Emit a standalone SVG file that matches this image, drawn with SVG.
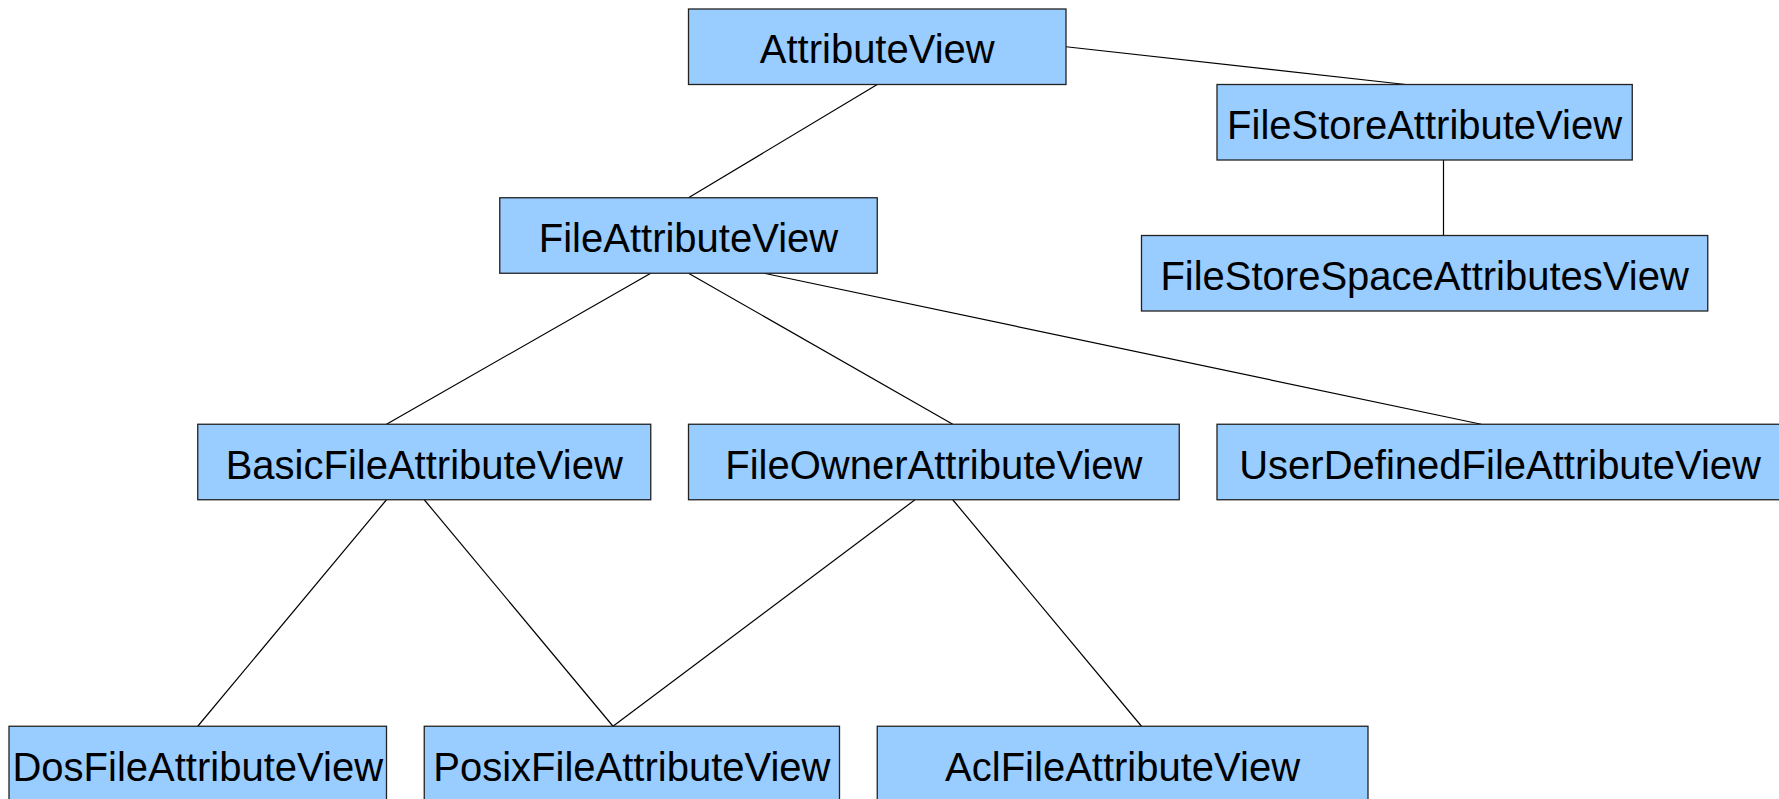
<svg xmlns="http://www.w3.org/2000/svg" width="1779" height="799" viewBox="0 0 1779 799">
<style>
.box{fill:#99ccff;stroke:#222;stroke-width:1.3}
.lbl{font-family:"Liberation Sans",Arial,sans-serif;font-size:40px;fill:#000;text-anchor:middle}
.con line{stroke:#000;stroke-width:1.2;fill:none}
</style>
<rect width="1779" height="799" fill="#fff"/>
<g id="connectors" class="con">
<line x1="877.25" y1="84.5" x2="688.5" y2="197.75"/>
<line x1="1066" y1="46.75" x2="1405.75" y2="84.5"/>
<line x1="1443.5" y1="160" x2="1443.5" y2="235.5"/>
<line x1="650.75" y1="273.25" x2="386.5" y2="424.25"/>
<line x1="688.5" y1="273.25" x2="952.75" y2="424.25"/>
<line x1="764" y1="273.25" x2="1481.25" y2="424.25"/>
<line x1="386.5" y1="499.75" x2="197.75" y2="726.25"/>
<line x1="424.25" y1="499.75" x2="613" y2="726.25"/>
<line x1="915" y1="499.75" x2="613" y2="726.25"/>
<line x1="952.75" y1="499.75" x2="1141.5" y2="726.25"/>
</g>
<g id="AttributeView"><rect class="box" x="688.5" y="9" width="377.5" height="75.5"/><text class="lbl" x="877.25" y="63.3">AttributeView</text></g>
<g id="FileStoreAttributeView"><rect class="box" x="1217" y="84.5" width="415.25" height="75.5"/><text class="lbl" x="1424.6" y="138.8">FileStoreAttributeView</text></g>
<g id="FileAttributeView"><rect class="box" x="499.75" y="197.75" width="377.5" height="75.5"/><text class="lbl" x="688.5" y="252">FileAttributeView</text></g>
<g id="FileStoreSpaceAttributesView"><rect class="box" x="1141.5" y="235.5" width="566.25" height="75.5"/><text class="lbl" x="1424.6" y="289.8">FileStoreSpaceAttributesView</text></g>
<g id="BasicFileAttributeView"><rect class="box" x="197.75" y="424.25" width="453" height="75.5"/><text class="lbl" x="424.25" y="478.5">BasicFileAttributeView</text></g>
<g id="FileOwnerAttributeView"><rect class="box" x="688.5" y="424.25" width="490.75" height="75.5"/><text class="lbl" x="933.9" y="478.5">FileOwnerAttributeView</text></g>
<g id="UserDefinedFileAttributeView"><rect class="box" x="1217" y="424.25" width="566.25" height="75.5"/><text class="lbl" x="1500.1" y="478.5">UserDefinedFileAttributeView</text></g>
<g id="DosFileAttributeView"><rect class="box" x="9" y="726.25" width="377.5" height="75.5"/><text class="lbl" x="197.75" y="780.5">DosFileAttributeView</text></g>
<g id="PosixFileAttributeView"><rect class="box" x="424.25" y="726.25" width="415.25" height="75.5"/><text class="lbl" x="631.9" y="780.5">PosixFileAttributeView</text></g>
<g id="AclFileAttributeView"><rect class="box" x="877.25" y="726.25" width="490.75" height="75.5"/><text class="lbl" x="1122.6" y="780.5">AclFileAttributeView</text></g>
</svg>
